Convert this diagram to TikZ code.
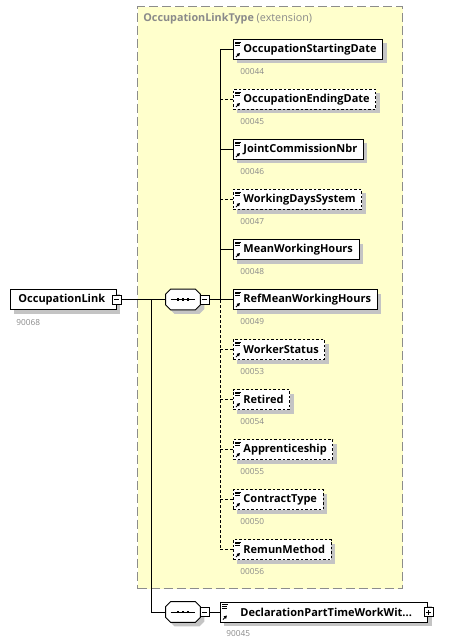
\documentclass[tikz,border=0pt]{standalone}
\usepackage{fontspec}
\setmainfont{Open Sans}
\usepackage{tikz}
\usetikzlibrary{arrows.meta, positioning, calc, shadows}
\definecolor{extyellow}{HTML}{FFFFCC}
\definecolor{extborder}{HTML}{8C8C8C}
\definecolor{idgray}{HTML}{8A8A8A}
\definecolor{shadowgray}{HTML}{C4C4C4}
\newcommand{\elemicon}{%
	\draw[solid, line width=0.7pt] ([shift={(2pt,-2.5pt)}]path picture bounding box.north west) -- ++(6pt,0pt)
		([shift={(2pt,-4.2pt)}]path picture bounding box.north west) -- ++(5pt,0pt)
		([shift={(2pt,-5.9pt)}]path picture bounding box.north west) -- ++(5pt,0pt);
	\draw[solid, line width=0.9pt, -{Triangle[length=3pt, width=3.2pt]}] ([shift={(2.5pt,2.5pt)}]path picture bounding box.south west) -- ++(4pt,4pt);}
% octagon of a sequence compositor, drawn round a named node
\newcommand{\seqshape}[1]{%
	\draw[seqoutline] ([xshift=5pt]#1.north west) -- ([xshift=-5pt]#1.north east) -- ([yshift=-5pt]#1.north east) -- ([yshift=5pt]#1.south east)
		-- ([xshift=-5pt]#1.south east) -- ([xshift=5pt]#1.south west) -- ([yshift=5pt]#1.south west) -- ([yshift=-5pt]#1.north west) -- cycle;
	\draw[line width=0.8pt] ([xshift=5pt]#1.west) -- ([xshift=-5pt]#1.east);
	\foreach \dx in {-5,0,5}
		\fill ([xshift=\dx pt]#1.center) +(-1.4pt,-1.4pt) rectangle +(1.4pt,1.4pt);}
\tikzset{
	pad/.style 2 args={execute at begin node={\hspace*{#1}}, execute at end node={\hspace*{#2}}},
	basebox/.style={rectangle, draw=black, fill=white, line width=0.9pt, minimum height=20pt, inner xsep=0pt, inner ysep=0pt, anchor=west, font=\bfseries\fontsize{11}{13}\selectfont, drop shadow={shadow xshift=4pt, shadow yshift=-4pt, fill=shadowgray, opacity=1}},
	elembox/.style={basebox, pad={10pt}{6pt}, path picture={\elemicon}},
	optbox/.style={elembox, dash pattern=on 2.5pt off 2pt},
	idlabel/.style={inner sep=0pt, text=idgray, font=\fontsize{8.3}{9}\selectfont},
	seqbox/.style={rectangle, minimum width=34pt, minimum height=20pt, inner sep=0pt},
	seqoutline/.style={draw=black, fill=white, line width=0.9pt, drop shadow={shadow xshift=4pt, shadow yshift=-4pt, fill=shadowgray, opacity=1}},
	expander/.style={rectangle, draw=black, fill=white, line width=0.7pt, minimum size=9pt, inner sep=0pt, path picture={\draw[line width=0.7pt] ([xshift=2pt]path picture bounding box.west) -- ([xshift=-2pt]path picture bounding box.east);}},
	plusexp/.style={expander, path picture={\draw[line width=0.7pt] ([xshift=2pt]path picture bounding box.west) -- ([xshift=-2pt]path picture bounding box.east) ([yshift=2pt]path picture bounding box.south) -- ([yshift=-2pt]path picture bounding box.north);}},
	optline/.style={dash pattern=on 3pt off 2pt},
	extbox/.style={rectangle, fill=extyellow, draw=extborder, dash pattern=on 9pt off 4pt, line width=1.2pt, minimum width=265pt, minimum height=582pt, anchor=north west}
}

\begin{document}
\begin{tikzpicture}[x=1pt, y=-1pt, line width=0.8pt]
	\useasboundingbox (0,0) rectangle (452,644);
	\node (ext) [extbox] at (137,6) {};
	\node (extlabel) [anchor=west, inner sep=0pt, text=idgray, font=\fontsize{10.8}{12}\selectfont] at (143,19) {\textbf{OccupationLinkType} (extension)};
	
	% root element and compositors
	\node (occlink) [basebox, pad={8pt}{11pt}] at (10,299.5) {OccupationLink};
	\node (occexp) [expander] at (occlink.east) {};
	\node (occid) [idlabel, below right=9pt and 6pt of occlink.south west] {90068};
	\node (seqa) [seqbox] at (183,299.5) {};
	\seqshape{seqa}
	\node (seqaexp) [expander] at (204.5,299.5) {};
	\coordinate (fork) at (151,299.5);
	\coordinate (spine) at (220,299.5);
	
	% children of the extension
	\node (startdate) [elembox] at (233,49.5) {OccupationStartingDate};
	\node (startdateid) [idlabel, below right=8pt and 7pt of startdate.south west] {00044};
	\node (enddate) [optbox] at (233,99.5) {OccupationEndingDate};
	\node (enddateid) [idlabel, below right=8pt and 7pt of enddate.south west] {00045};
	\node (jointnbr) [elembox] at (233,149.5) {JointCommissionNbr};
	\node (jointnbrid) [idlabel, below right=8pt and 7pt of jointnbr.south west] {00046};
	\node (workdays) [optbox] at (233,199.5) {WorkingDaysSystem};
	\node (workdaysid) [idlabel, below right=8pt and 7pt of workdays.south west] {00047};
	\node (meanhours) [elembox] at (233,249.5) {MeanWorkingHours};
	\node (meanhoursid) [idlabel, below right=8pt and 7pt of meanhours.south west] {00048};
	\node (refhours) [elembox] at (233,299.5) {RefMeanWorkingHours};
	\node (refhoursid) [idlabel, below right=8pt and 7pt of refhours.south west] {00049};
	\node (status) [optbox] at (233,349.5) {WorkerStatus};
	\node (statusid) [idlabel, below right=8pt and 7pt of status.south west] {00053};
	\node (retired) [optbox] at (233,399.5) {Retired};
	\node (retiredid) [idlabel, below right=8pt and 7pt of retired.south west] {00054};
	\node (apprentice) [optbox] at (233,449.5) {Apprenticeship};
	\node (apprenticeid) [idlabel, below right=8pt and 7pt of apprentice.south west] {00055};
	\node (contract) [optbox] at (233,499.5) {ContractType};
	\node (contractid) [idlabel, below right=8pt and 7pt of contract.south west] {00050};
	\node (remun) [optbox] at (233,549.5) {RemunMethod};
	\node (remunid) [idlabel, below right=8pt and 7pt of remun.south west] {00056};
	
	% second sequence
	\node (seqb) [seqbox] at (183,612) {};
	\seqshape{seqb}
	\node (seqbexp) [expander] at (204.5,612) {};
	\node (decl) [elembox, pad={10pt}{10pt}] at (220,612) {DeclarationPartTimeWorkWit...};
	\node (declexp) [plusexp] at (decl.east) {};
	\node (declid) [idlabel, below right=8pt and 6pt of decl.south west] {90045};
	
	% connectors
	\draw (occexp.east) -- (seqa.west);
	\draw (fork) |- (seqb.west);
	\draw (seqaexp.east) -- (refhours.west);
	\draw (seqbexp.east) -- (decl.west);
	\draw (startdate.west) -| (spine);
	\draw (jointnbr.west) -- (jointnbr.west -| spine);
	\draw (meanhours.west) -- (meanhours.west -| spine);
	\draw [optline] (remun.west) -| (spine);
	\draw [optline] (enddate.west) -- (enddate.west -| spine);
	\draw [optline] (workdays.west) -- (workdays.west -| spine);
	\draw [optline] (status.west) -- (status.west -| spine);
	\draw [optline] (retired.west) -- (retired.west -| spine);
	\draw [optline] (apprentice.west) -- (apprentice.west -| spine);
	\draw [optline] (contract.west) -- (contract.west -| spine);
\end{tikzpicture}
\end{document}
